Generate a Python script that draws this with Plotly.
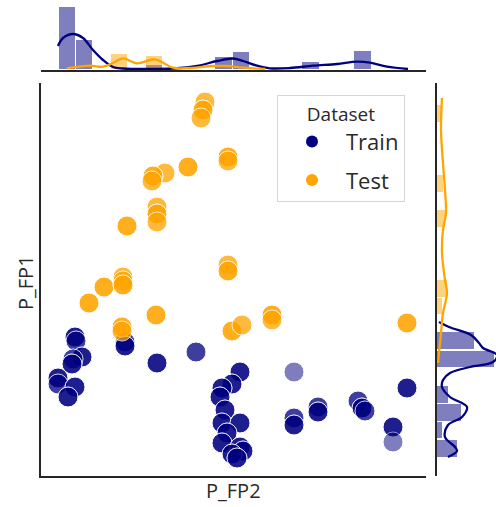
import plotly.graph_objects as go

# ---------------- data ----------------
# scatter: P_FP2 (x), P_FP1 (y), n = number of stacked duplicate records
train_x = [34, 35, 41, 32, 31, 17, 17, 34, 27, 84, 84, 116, 155,
           199, 191, 181, 179, 184, 181, 199, 186, 181, 199, 202, 191, 196,
           253, 253, 253, 277, 277, 317, 321, 324, 366, 352, 352]
train_y = [139, 135, 119, 117, 112, 98, 92, 89, 79, 134, 130, 113, 124,
           104, 92, 88, 79, 66, 53, 53, 43, 33, 29, 25, 22, 18,
           104, 58, 51, 69, 64, 75, 68, 65, 88, 49, 34]
train_n = [3, 2, 3, 2, 3, 3, 2, 3, 3, 2, 3, 3, 2,
           3, 3, 3, 3, 3, 3, 3, 3, 3, 3, 3, 3, 3,
           1, 2, 3, 2, 3, 2, 3, 2, 3, 3, 1]

test_x = [164, 162, 160, 187, 187, 147, 124, 112, 111, 116, 116, 116, 86,
          187, 187, 63, 82, 82, 82, 48, 115, 81, 81, 191, 201, 231, 231, 366]
test_y = [374, 366, 358, 319, 315, 309, 303, 300, 295, 269, 262, 254, 250,
          211, 205, 189, 199, 195, 191, 173, 161, 149, 145, 145, 151, 161, 156, 153]
test_n = [2, 3, 2, 3, 2, 3, 2, 3, 2, 2, 3, 2, 3,
          2, 3, 3, 2, 2, 3, 3, 3, 3, 2, 3, 2, 3, 2, 3]

# top marginal histogram (P_FP2 bins)
top_bin_width = 17.4
top_train_centers = [26.2, 43.6, 113.2, 182.8, 200.2, 269.8, 322.0]
top_train_heights = [63, 30, 5, 13, 18, 8, 19]
top_test_centers = [78.4, 113.2]
top_test_heights = [16, 14]

# top marginal KDE curves
top_train_kde_x = [17, 22, 32, 42, 52, 62, 72, 82, 109, 132, 156, 176, 192, 202,
                   216, 229, 249, 272, 296, 316, 329, 346, 367]
top_train_kde_y = [24, 32, 36, 32, 20, 10, 3, 1.5, 1, 1.5, 4, 9, 11.5, 9,
                   4.3, 1.7, 2, 4.3, 6, 8.3, 7.3, 3.3, 1]
top_test_kde_x = [26, 49, 62, 72, 82, 96, 114, 132, 149, 172, 186, 199, 224]
top_test_kde_y = [1.7, 4.3, 3.3, 7, 11.7, 6.7, 10.7, 2.3, 2, 4, 4, 2.7, 1]

# right marginal histogram (P_FP1 bins)
right_bin_width = 17.5
right_train_centers = [135, 116.5, 81, 63, 45.5, 27]
right_train_lengths = [38, 58, 12, 25, 6, 21]
right_test_centers = [362.25, 292.25, 257.25, 187.25, 169.75]
right_test_lengths = [6, 7, 9, 11, 6]

# right marginal KDE curves
right_train_kde_y = [154, 149, 141, 133, 128, 121, 114, 109, 103, 96, 89, 79, 69,
                     59, 51, 39, 29, 25, 19]
right_train_kde_x = [2, 12, 34, 42, 46, 60, 56, 33, 13, 6, 5, 13, 30,
                     25, 11, 8, 18, 20, 11]
right_test_kde_y = [378, 346, 313, 286, 263, 246, 223, 196, 183, 163, 143, 123, 113]
right_test_kde_x = [5, 4, 6, 8, 9, 6, 5, 8, 10, 6, 4, 2, 1]

categories = ["Train", "Test"]

# ---------------- styling ----------------
NAVY = "navy"
ORANGE = "orange"
NAVY_A = "rgba(0,0,128,0.5)"
ORANGE_A = "rgba(255,165,0,0.5)"
TXT = "#2a2a2a"
SPINE = "#262626"
FONT = "Open Sans"
W, H = 496, 507


def expand(xs, ys, ns):
    ox, oy = [], []
    for x, y, n in zip(xs, ys, ns):
        ox += [x] * n
        oy += [y] * n
    return ox, oy


fig = go.Figure()

tx, ty = expand(train_x, train_y, train_n)
sx, sy = expand(test_x, test_y, test_n)

MS = 20
fig.add_trace(go.Scatter(x=tx, y=ty, mode="markers", showlegend=False,
                         marker=dict(color=NAVY, size=MS, opacity=0.5,
                                     line=dict(color="white", width=1)),
                         xaxis="x", yaxis="y"))
fig.add_trace(go.Scatter(x=sx, y=sy, mode="markers", showlegend=False,
                         marker=dict(color=ORANGE, size=MS, opacity=0.5,
                                     line=dict(color="white", width=1)),
                         xaxis="x", yaxis="y"))

# legend entries
for name, col in zip(categories, [NAVY, ORANGE]):
    fig.add_trace(go.Scatter(x=[None], y=[None], mode="markers", name=name,
                             legendgroup=name,
                             marker=dict(color=col, size=12),
                             xaxis="x", yaxis="y"))

# top marginal
fig.add_trace(go.Bar(x=top_train_centers, y=top_train_heights, width=top_bin_width,
                     marker=dict(color=NAVY_A, line=dict(color="white", width=1)),
                     showlegend=False, xaxis="x3", yaxis="y3"))
fig.add_trace(go.Bar(x=top_test_centers, y=top_test_heights, width=top_bin_width,
                     marker=dict(color=ORANGE_A, line=dict(color="white", width=1)),
                     showlegend=False, xaxis="x3", yaxis="y3"))
fig.add_trace(go.Scatter(x=top_train_kde_x, y=top_train_kde_y, mode="lines",
                         line=dict(color=NAVY, width=2.3, shape="spline"),
                         showlegend=False, xaxis="x3", yaxis="y3"))
fig.add_trace(go.Scatter(x=top_test_kde_x, y=top_test_kde_y, mode="lines",
                         line=dict(color=ORANGE, width=2.3, shape="spline"),
                         showlegend=False, xaxis="x3", yaxis="y3"))

# right marginal
fig.add_trace(go.Bar(y=right_train_centers, x=right_train_lengths, width=right_bin_width,
                     orientation="h",
                     marker=dict(color=NAVY_A, line=dict(color="white", width=1)),
                     showlegend=False, xaxis="x2", yaxis="y2"))
fig.add_trace(go.Bar(y=right_test_centers, x=right_test_lengths, width=right_bin_width,
                     orientation="h",
                     marker=dict(color=ORANGE_A, line=dict(color="white", width=1)),
                     showlegend=False, xaxis="x2", yaxis="y2"))
fig.add_trace(go.Scatter(x=right_train_kde_x, y=right_train_kde_y, mode="lines",
                         line=dict(color=NAVY, width=2.3, shape="spline"),
                         showlegend=False, xaxis="x2", yaxis="y2"))
fig.add_trace(go.Scatter(x=right_test_kde_x, y=right_test_kde_y, mode="lines",
                         line=dict(color=ORANGE, width=2.3, shape="spline"),
                         showlegend=False, xaxis="x2", yaxis="y2"))

main_x_dom = [41 / W, 426 / W]
main_y_dom = [(H - 476) / H, (H - 83) / H]
right_x_dom = [437 / W, 1.0]
top_y_dom = [(H - 70) / H, 1.0]

hidden = dict(showticklabels=False, ticks="", showgrid=False, zeroline=False)

fig.update_layout(
    width=W, height=H,
    margin=dict(l=0, r=0, t=0, b=0),
    paper_bgcolor="white", plot_bgcolor="white",
    barmode="overlay", bargap=0,
    font=dict(family=FONT, color=TXT),
    xaxis=dict(domain=main_x_dom, range=[0, 385], anchor="y",
               showline=True, linecolor=SPINE, linewidth=2, **hidden),
    yaxis=dict(domain=main_y_dom, range=[0, 393], anchor="x",
               showline=True, linecolor=SPINE, linewidth=2, **hidden),
    xaxis2=dict(domain=right_x_dom, range=[0, 59], anchor="y2",
                showline=False, **hidden),
    yaxis2=dict(domain=main_y_dom, range=[0, 393], anchor="x2", matches="y",
                showline=True, linecolor=SPINE, linewidth=2, **hidden),
    xaxis3=dict(domain=main_x_dom, range=[0, 385], anchor="y3", matches="x",
                showline=True, linecolor=SPINE, linewidth=2, **hidden),
    yaxis3=dict(domain=top_y_dom, range=[0, 70], anchor="x3",
                showline=False, **hidden),
    legend=dict(x=277 / W, y=(H - 95) / H, xanchor="left", yanchor="top",
                bgcolor="rgba(255,255,255,0.8)", bordercolor="#d6d6d6", borderwidth=1,
                font=dict(family=FONT, size=22, color=TXT),
                title=dict(text="Dataset", side="top center",
                           font=dict(family=FONT, size=19, color=TXT)),
                traceorder="grouped", tracegroupgap=7,
                itemsizing="constant", itemwidth=58, entrywidth=80),
    annotations=[
        dict(text="P_FP2", x=233 / W, y=(H - 490) / H, xref="paper", yref="paper",
             showarrow=False, xanchor="center", yanchor="middle",
             font=dict(family=FONT, size=20, color=TXT)),
        dict(text="P_FP1", x=25 / W, y=(H - 283) / H, xref="paper", yref="paper",
             showarrow=False, xanchor="center", yanchor="middle", textangle=-90,
             font=dict(family=FONT, size=20, color=TXT)),
    ],
)

fig.write_html("out.html", config={"displayModeBar": False},
               post_script="document.body.style.margin='0';")
